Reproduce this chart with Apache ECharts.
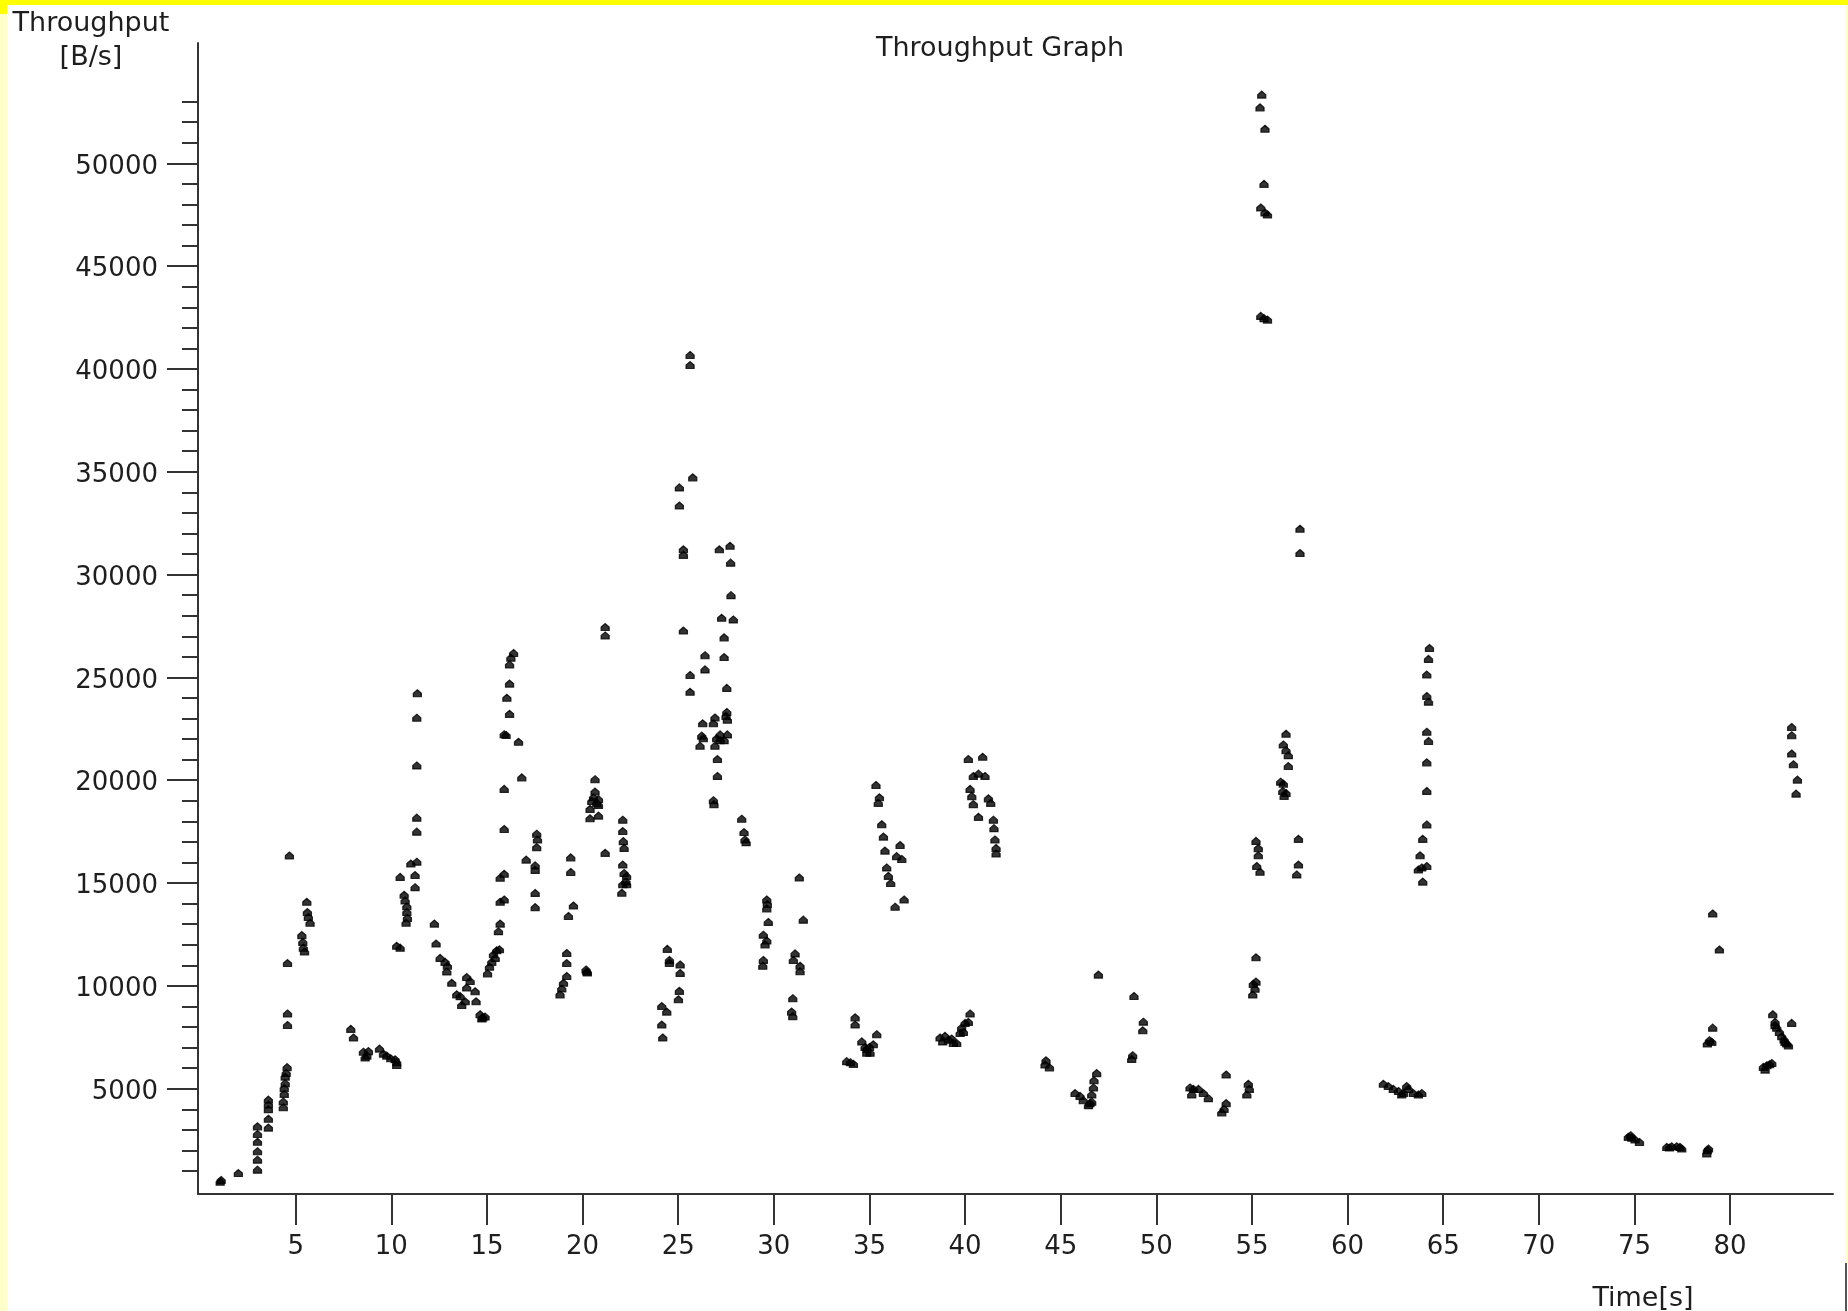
<!DOCTYPE html>
<html>
<head>
<meta charset="utf-8">
<script src="https://cdn.jsdelivr.net/npm/echarts@6/dist/echarts.min.js"></script>
<style>
html,body{margin:0;padding:0;background:#fff;}
#chart{width:1848px;height:1311px;}
</style>
</head>
<body>
<div id="chart"></div>
<script>
// Time [s] of each sample
const timeS = [
1.05,1.1,2.0,
3.0,3.0,3.0,3.0,3.0,3.0,
3.57,3.57,3.57,3.57,3.57,
4.35,4.35,4.4,4.4,4.45,4.45,4.5,4.55,4.57,4.57,4.57,4.67,
5.58,5.61,5.66,5.75,5.32,5.37,5.4,5.46,
7.88,8.02,8.54,8.72,8.63,8.8,
9.38,9.59,9.76,9.97,10.2,10.28,10.28,
10.28,10.46,10.46,10.67,10.72,10.81,10.81,10.84,10.77,
11.02,11.33,11.24,11.24,11.33,11.33,11.33,11.33,11.36,
12.25,12.34,12.55,12.81,12.93,12.9,13.16,13.42,13.6,13.68,13.86,13.94,14.12,13.94,14.38,14.43,14.64,14.78,14.9,14.73,
15.03,15.13,15.25,15.34,15.51,15.43,15.65,15.6,15.69,15.69,15.9,15.69,15.9,15.9,15.9,15.9,16.0,16.18,16.04,16.18,16.18,16.25,16.39,16.65,16.82,
17.05,17.52,17.52,17.6,17.64,17.6,17.52,17.52,
18.82,18.91,19.0,19.17,19.17,19.17,19.26,19.52,19.38,19.38,
20.22,20.18,20.25,
20.65,20.65,20.57,20.48,20.39,20.39,20.83,20.83,20.83,20.74,
21.18,21.18,21.18,
22.1,22.1,22.13,22.17,22.1,22.17,22.3,22.27,22.1,22.05,22.3,
24.19,24.14,24.14,24.4,24.43,24.54,24.54,25.1,25.1,25.06,25.01,
25.06,25.06,25.27,25.27,25.27,25.76,25.62,25.62,25.62,25.62,
26.4,26.4,26.28,26.23,26.14,26.31,26.92,26.84,27.01,26.92,27.05,27.05,26.84,26.87,27.15,27.19,27.19,
27.4,27.4,27.27,27.54,27.71,27.74,27.76,27.88,27.54,27.57,27.57,27.4,27.5,
28.32,28.44,28.49,28.55,
29.63,29.63,29.71,29.45,29.63,29.54,29.45,29.42,29.66,
31.33,31.54,31.11,31.02,31.37,31.37,30.99,30.93,30.99,
33.81,34.0,34.16,34.25,34.25,34.6,34.86,35.03,35.0,35.2,35.38,34.86,34.77,
35.34,35.52,35.46,35.64,35.73,35.81,35.9,35.99,36.11,36.34,36.81,36.6,36.42,36.69,
38.69,38.83,39.13,39.39,39.56,39.74,39.82,40.0,40.17,40.26,38.95,39.3,39.91,
40.17,40.92,40.43,40.7,41.04,40.26,40.35,40.43,40.7,41.22,41.34,41.48,41.51,41.56,41.62,41.62,
44.23,44.41,44.18,
45.75,46.01,46.18,46.45,46.53,46.62,46.71,46.74,46.88,46.62,46.97,
48.83,48.76,48.71,49.32,49.29,
51.76,51.94,51.85,52.2,52.46,52.72,
53.65,53.54,53.65,53.42,
54.81,54.73,54.86,
55.21,55.07,55.16,55.04,55.21,55.21,55.33,55.33,55.42,55.25,
55.51,55.42,55.68,55.63,55.46,55.81,55.68,55.46,55.81,55.63,
56.78,56.64,56.78,56.9,56.9,56.64,56.61,56.68,56.78,56.5,
57.51,57.51,57.43,57.43,57.34,
61.87,62.13,62.39,62.66,62.92,63.09,63.18,63.44,63.7,63.88,62.83,
64.28,64.23,64.14,64.14,64.23,64.14,64.23,64.14,64.14,64.14,63.93,63.79,63.88,64.14,63.93,63.7,
74.68,74.86,75.03,75.26,74.8,
76.69,76.95,77.21,77.47,77.38,76.83,
78.81,78.78,78.87,
79.09,79.44,79.09,78.92,79.04,78.81,
81.74,81.92,82.18,81.83,82.06,
82.23,82.35,82.44,82.58,82.7,82.82,82.96,83.05,83.22,82.35,82.87,
83.22,83.22,83.22,83.31,83.52,83.45
];
// Throughput [B/s] of each sample
const throughputBps = [
480,560,900,
1065,1550,1960,2420,2800,3170,
3110,3540,4010,4230,4470,
4100,4380,4750,5030,5270,5590,5770,6050,8100,8660,11110,16340,
14090,13590,13350,13070,12470,12140,11860,11670,
7910,7490,6800,6610,6520,6830,
6950,6700,6610,6480,6430,6150,6290,
11950,11860,15300,14430,14150,13870,13590,13310,13070,
15950,16040,15390,14800,17500,18180,20720,23040,24230,
13030,12060,11360,11170,10980,10700,10150,9590,9500,9070,9250,10430,10240,9920,9740,9250,8620,8470,8510,8420,
10610,10930,11170,11540,11730,11360,11780,12660,13030,14090,14200,15260,15450,17630,19580,22240,22200,23230,24010,24700,25630,25960,26190,21870,20140,
16140,15860,15640,17400,17120,16750,14520,13830,
9590,9870,10150,10480,11110,11600,13400,13910,15540,16250,
10700,10800,10650,
20050,19450,19170,18990,18610,18150,19080,18800,18280,18890,
27450,27040,16470,
18080,17530,17040,16710,15900,15490,15350,15080,14940,14530,14940,
7490,8120,9020,8750,11800,11260,11120,11040,10630,9760,9350,
34240,33360,31230,30960,27280,34730,40680,40190,25120,24300,
26080,25390,22770,22170,21680,22040,23050,22770,22040,21680,21030,20210,19030,18840,31230,21950,22230,
26950,25990,27900,24490,31400,30580,29000,27820,23320,22940,22230,21950,23130,
18130,17480,17120,16990,
14200,13770,13110,12490,12210,12020,11260,10980,13990,
15270,13220,11580,11260,10980,10710,9400,8750,8530,
6340,6290,6210,8470,8120,7300,6940,6750,7030,7160,7650,6750,7030,
19770,19170,18900,17860,17260,16580,15760,15350,15000,13850,14200,16850,16310,16170,
7490,7300,7380,7220,7220,7710,7980,8200,8250,8660,7570,7440,7760,
21030,21140,20210,20320,20210,19580,19230,18840,18220,19120,18900,18080,17670,17120,16710,16440,
6380,6040,6180,
4790,4650,4440,4200,4300,4720,5060,5410,5760,4370,10550,
9510,6630,6450,8260,7840,
5060,4990,4720,4990,4790,4540,
5690,4020,4300,3850,
5240,4720,4990,
11390,10100,9860,9580,10210,17050,16700,16350,15550,15830,
53340,52720,51680,49000,47850,47510,47610,42580,42400,42470,
22260,21740,21460,21220,20690,19830,19480,19240,19380,19930,
32230,31050,17150,15900,15420,
5240,5130,4990,4890,4790,5130,4990,4790,4720,4790,4720,
26430,25900,25140,24100,23820,22360,21910,20870,19480,17850,17150,16350,15760,15830,15070,15660,
2660,2620,2530,2410,2740,
2170,2200,2200,2090,2170,2140,
2010,1850,2090,
13520,11770,7970,7360,7280,7200,
6060,6140,6250,5930,6190,
8620,8250,7970,7760,7550,7390,7200,7110,8200,8090,7280,
22590,22190,21300,20780,20030,19350
];
const xTickValues = [5,10,15,20,25,30,35,40,45,50,55,60,65,70,75,80];
const yMajorTicks = [5000,10000,15000,20000,25000,30000,35000,40000,45000,50000];
const yMinorTicks = [];
for (let v = 1000; v <= 53000; v += 1000) { if (v % 5000 !== 0) yMinorTicks.push(v); }

const points = timeS.map((t, i) => [t, throughputBps[i]]);

const FONT = 'DejaVu Sans';
const TXT = '#1e1e1e';
const AX = '#333';

const chart = echarts.init(document.getElementById('chart'), null, {renderer: 'canvas'});
chart.setOption({
  animation: false,
  backgroundColor: '#ffffff',
  title: [{
    text: 'Throughput Graph',
    left: 1000,
    top: 33,
    textAlign: 'center',
    padding: 0,
    textStyle: {fontFamily: FONT, fontSize: 27, fontWeight: 'normal', color: TXT, lineHeight: 32}
  }, {
    text: 'Time[s]',
    left: 1643,
    top: 1284,
    textAlign: 'center',
    padding: 0,
    textStyle: {fontFamily: FONT, fontSize: 27, fontWeight: 'normal', color: TXT, lineHeight: 30}
  }],
  grid: {left: 198, right: 15, top: 43, bottom: 117, containLabel: false, outerBoundsMode: 'none'},
  xAxis: {
    type: 'value',
    min: -0.11,
    max: 85.38,
    axisLine: {show: true, onZero: false, lineStyle: {color: AX, width: 2}},
    axisTick: {show: true, length: 31, customValues: xTickValues, lineStyle: {color: AX, width: 2}},
    axisLabel: {show: true, margin: 38, customValues: xTickValues, fontFamily: FONT, fontSize: 26, color: TXT, lineHeight: 30, formatter: v => String(v)},
    splitLine: {show: false}
  },
  yAxis: [{
    type: 'value',
    min: -120,
    max: 55850,
    position: 'left',
    name: 'Throughput\n[B/s]',
    nameLocation: 'end',
    nameGap: 36,
    nameTextStyle: {fontFamily: FONT, fontSize: 27, color: TXT, align: 'center', verticalAlign: 'top', lineHeight: 34, padding: [0, 214, 0, 0]},
    axisLine: {show: true, onZero: false, lineStyle: {color: AX, width: 2}},
    axisTick: {show: true, length: 31, customValues: yMajorTicks, lineStyle: {color: AX, width: 2}},
    axisLabel: {show: true, margin: 40, customValues: yMajorTicks, fontFamily: FONT, fontSize: 26, color: TXT, verticalAlign: 'top', lineHeight: 7, formatter: v => String(v)},
    splitLine: {show: false}
  }, {
    type: 'value',
    min: -120,
    max: 55850,
    position: 'left',
    axisLine: {show: false, onZero: false},
    axisTick: {show: true, length: 16, customValues: yMinorTicks, lineStyle: {color: AX, width: 2}},
    axisLabel: {show: false},
    splitLine: {show: false}
  }],
  series: [{
    type: 'scatter',
    xAxisIndex: 0,
    yAxisIndex: 0,
    data: points,
    symbol: 'path://M4,0 L8,3.5 L8,7 L0,7 L0,3.5 Z',
    symbolSize: [8, 7],
    itemStyle: {color: '#000', borderColor: '#000', borderWidth: 1.2},
    silent: true
  }],
  graphic: [
    {type: 'rect', shape: {x: 0, y: 0, width: 1848, height: 5}, style: {fill: '#ffff00'}, silent: true},
    {type: 'rect', shape: {x: 0, y: 0, width: 7, height: 14}, style: {fill: '#ffff00'}, silent: true},
    {type: 'rect', shape: {x: 0, y: 14, width: 7, height: 1297}, style: {fill: '#ffffcc'}, silent: true},
    {type: 'rect', shape: {x: 1845, y: 5, width: 3, height: 1258}, style: {fill: '#ffffcc'}, silent: true},
    {type: 'rect', shape: {x: 1845, y: 1263, width: 2, height: 48}, style: {fill: '#555'}, silent: true}
  ]
});
</script>
</body>
</html>
